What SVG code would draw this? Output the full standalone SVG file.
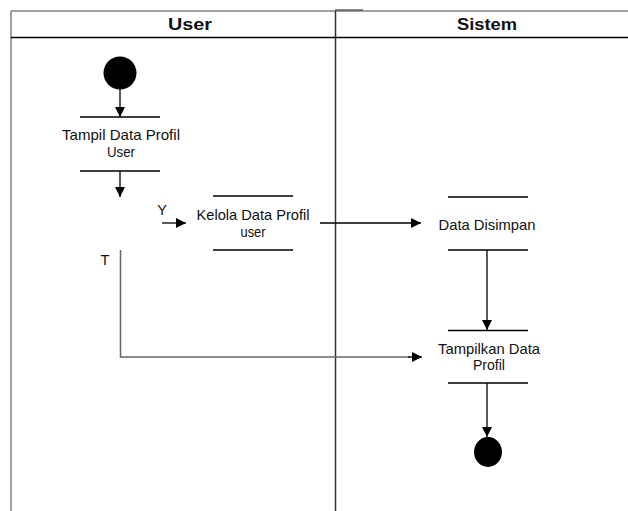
<svg xmlns="http://www.w3.org/2000/svg" width="628" height="511" viewBox="0 0 628 511">
  <style>
    .lbl { font-family: "Liberation Sans", Arial, sans-serif; font-size: 14.5px; fill: #111; text-anchor: middle; }
    .hdr { font-family: "Liberation Sans", Arial, sans-serif; font-size: 17px; font-weight: bold; fill: #111; text-anchor: middle; }
    .bar { stroke: #000; stroke-width: 1.3; fill: none; }
    .flow { stroke: #000; stroke-width: 1.3; fill: none; }
    .flow-grey { stroke: #666; stroke-width: 1.5; fill: none; }
  </style>
  <defs>
    <marker id="head" viewBox="0 0 10 10" refX="10" refY="5" markerWidth="10" markerHeight="10" markerUnits="userSpaceOnUse" orient="auto">
      <path d="M0,0 L10,5 L0,10 Z" fill="#000"/>
    </marker>
    <marker id="headL" viewBox="0 0 10 10" refX="10" refY="5" markerWidth="11" markerHeight="10" markerUnits="userSpaceOnUse" orient="auto">
      <path d="M0,0 L10,5 L0,10 Z" fill="#000"/>
    </marker>
  </defs>

  <rect width="628" height="511" fill="#fff"/>

  <!-- swimlane frame -->
  <g id="lanes">
    <line x1="11" y1="11" x2="628" y2="11" stroke="#808080" stroke-width="1.5"/>
    <line x1="335" y1="10" x2="363" y2="10" stroke="#444" stroke-width="1.2"/>
    <line x1="11" y1="11" x2="11" y2="511" stroke="#808080" stroke-width="1.5"/>
    <line x1="335.5" y1="11" x2="335.5" y2="511" stroke="#333" stroke-width="1.5"/>
    <line x1="11" y1="37.5" x2="628" y2="37.5" stroke="#000" stroke-width="1.3"/>
    <text class="hdr" x="190" y="30" textLength="44" lengthAdjust="spacingAndGlyphs">User</text>
    <text class="hdr" x="487" y="30" textLength="60" lengthAdjust="spacingAndGlyphs">Sistem</text>
  </g>

  <!-- connectors -->
  <g id="connectors">
    <line class="flow" x1="120" y1="89" x2="120" y2="117" marker-end="url(#head)"/>
    <line class="flow" x1="120" y1="171" x2="120" y2="197" marker-end="url(#head)"/>
    <line class="flow" x1="162" y1="223" x2="186" y2="223" marker-end="url(#headL)"/>
    <line class="flow" x1="320" y1="223" x2="421" y2="223" marker-end="url(#headL)"/>
    <line class="flow" x1="487" y1="250" x2="487" y2="330" marker-end="url(#head)"/>
    <line class="flow" x1="487" y1="383" x2="487" y2="437" marker-end="url(#head)"/>
    <polyline class="flow-grey" points="120.5,250 120.5,357 410,357"/>
    <line class="flow" x1="408" y1="357" x2="422" y2="357" marker-end="url(#headL)"/>
    <text class="lbl" x="162" y="215">Y</text>
    <text class="lbl" x="105" y="265">T</text>
  </g>

  <!-- start -->
  <g id="start">
    <circle cx="120" cy="73" r="16.5" fill="#000"/>
  </g>

  <!-- activity: Tampil Data Profil User -->
  <g id="tampil-data-profil-user">
    <line class="bar" x1="80" y1="117" x2="160" y2="117"/>
    <text class="lbl" x="121" y="139.5" textLength="118" lengthAdjust="spacingAndGlyphs">Tampil Data Profil</text>
    <text class="lbl" x="121" y="157" textLength="28" lengthAdjust="spacingAndGlyphs">User</text>
    <line class="bar" x1="80" y1="171" x2="160" y2="171"/>
  </g>

  <!-- activity: Kelola Data Profil user -->
  <g id="kelola-data-profil-user">
    <line class="bar" x1="213" y1="196" x2="293" y2="196"/>
    <text class="lbl" x="253" y="220" textLength="113" lengthAdjust="spacingAndGlyphs">Kelola Data Profil</text>
    <text class="lbl" x="253" y="237" textLength="25" lengthAdjust="spacingAndGlyphs">user</text>
    <line class="bar" x1="213" y1="250" x2="293" y2="250"/>
  </g>

  <!-- activity: Data Disimpan -->
  <g id="data-disimpan">
    <line class="bar" x1="448" y1="197" x2="528" y2="197"/>
    <text class="lbl" x="487" y="229.5" textLength="97" lengthAdjust="spacingAndGlyphs">Data Disimpan</text>
    <line class="bar" x1="448" y1="250" x2="528" y2="250"/>
  </g>

  <!-- activity: Tampilkan Data Profil -->
  <g id="tampilkan-data-profil">
    <line class="bar" x1="448" y1="330.5" x2="528" y2="330.5"/>
    <text class="lbl" x="489" y="353.5" textLength="102" lengthAdjust="spacingAndGlyphs">Tampilkan Data</text>
    <text class="lbl" x="489" y="370" textLength="32" lengthAdjust="spacingAndGlyphs">Profil</text>
    <line class="bar" x1="448" y1="383" x2="528" y2="383"/>
  </g>

  <!-- end -->
  <g id="end">
    <ellipse cx="488" cy="452" rx="14" ry="15" fill="#000"/>
  </g>
</svg>
